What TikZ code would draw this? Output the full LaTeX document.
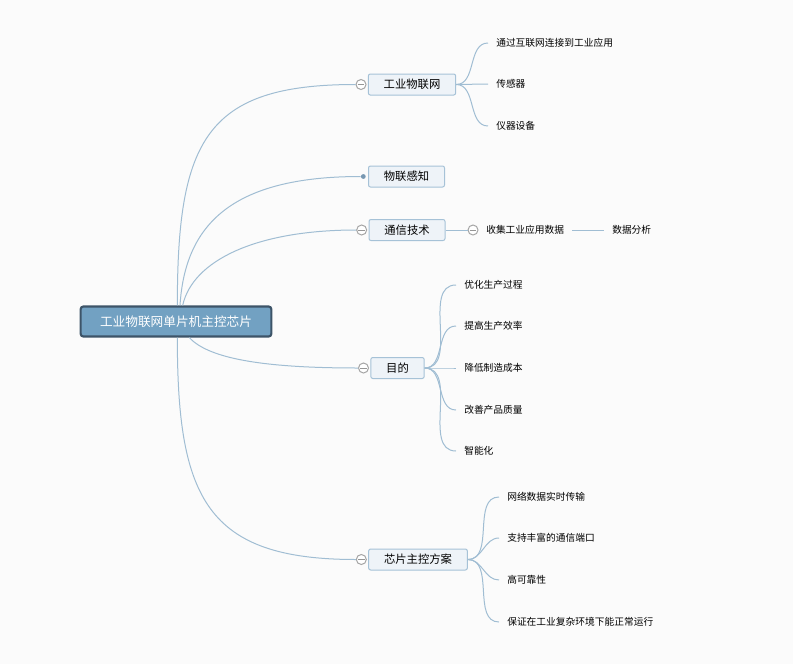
\documentclass[tikz,border=0pt]{standalone}
\usepackage{fontspec}
\newfontfamily\cjk{Noto Sans CJK SC}
\usetikzlibrary{positioning}

\begin{document}
\begin{tikzpicture}[x=0.75pt,y=0.75pt,yscale=-1,xscale=1,
  link/.style={draw={rgb, 255:red, 160; green, 189; blue, 211 }, line width=0.75pt},
  rootbox/.style={draw={rgb, 255:red, 61; green, 84; blue, 104 }, line width=1.6pt, fill={rgb, 255:red, 114; green, 161; blue, 194 }, rounded corners=2pt, text=white, font=\cjk\fontsize{9.5}{11}\selectfont, minimum width=143pt, minimum height=22.5pt, inner sep=0pt},
  topicbox/.style={draw={rgb, 255:red, 166; green, 194; blue, 215 }, line width=0.75pt, fill={rgb, 255:red, 238; green, 243; blue, 248 }, rounded corners=1.5pt, font=\cjk\fontsize{8.5}{10}\selectfont, minimum height=15.75pt, inner xsep=11.5pt, inner ysep=0pt},
  leaf/.style={anchor=west, font=\cjk\fontsize{7.3}{9}\selectfont, inner xsep=6pt, inner ysep=1pt},
  fold/.style={circle, draw={rgb, 255:red, 165; green, 165; blue, 165 }, line width=0.75pt, fill=white, minimum size=7.5pt, inner sep=0pt,
    path picture={\draw[draw={rgb, 255:red, 150; green, 150; blue, 150 }, line width=0.6pt] ([xshift=-2.6pt]path picture bounding box.center) -- ([xshift=2.6pt]path picture bounding box.center);}},
  dotmark/.style={circle, fill={rgb, 255:red, 120; green, 152; blue, 178 }, minimum size=3.6pt, inner sep=0pt}
]
%set diagram size
\path [fill={rgb, 255:red, 251; green, 251; blue, 251 }] (0,0) rectangle (793,664);

% Root
\node [rootbox] (root) at (176,321.5) {工业物联网单片机主控芯片};

% Main topics
\node [topicbox] (iot) at (412,84.5) {工业物联网};
\node [topicbox] (sense) at (406.5,176.5) {物联感知};
\node [topicbox] (comm) at (407,230) {通信技术};
\node [topicbox] (goal) at (397.5,368) {目的};
\node [topicbox] (chip) at (418,559.5) {芯片主控方案};

% Fold marks
\node [fold, left=1pt of iot] (iotfold) {};
\node [dotmark, left=1.5pt of sense] (sensedot) {};
\node [fold, left=1pt of comm] (commfold) {};
\node [fold, left=1pt of goal] (goalfold) {};
\node [fold, left=1pt of chip] (chipfold) {};

% Root links
\draw [link] ([xshift=1]root.north) .. controls +(0,-165) and +(-150,0) .. (iotfold.west);
\draw [link] ([xshift=3]root.north) .. controls +(5,-80) and +(-130,0) .. (sensedot.west);
\draw [link] ([xshift=5]root.north) .. controls +(10,-45) and +(-100,0) .. (commfold.west);
\draw [link] ([xshift=10]root.south) .. controls +(20,22) and +(-90,0) .. (goalfold.west);
\draw [link] ([xshift=1]root.south) .. controls +(0,160) and +(-150,0) .. (chipfold.west);

% Text Node
\node [leaf] (iot1) at (488,43) {通过互联网连接到工业应用};
\node [leaf] (iot2) at (488,84) {传感器};
\node [leaf] (iot3) at (488,126) {仪器设备};
\foreach \k in {iot1,iot2,iot3}
  \draw [link] (iot.east) to [out=0, in=180] (\k.west);

% Text Node
\node [fold] (collectfold) at (473,230) {};
\node [leaf] (collect) at (478,230) {收集工业应用数据};
\node [leaf] (analysis) at (604,230) {数据分析};
\draw [link] (comm.east) -- (collectfold.west);
\draw [link] (collect.east) -- (analysis.west);

% Text Node
\node [leaf] (goal1) at (456,285) {优化生产过程};
\node [leaf] (goal2) at (456,326) {提高生产效率};
\node [leaf] (goal3) at (456,368) {降低制造成本};
\node [leaf] (goal4) at (456,410) {改善产品质量};
\node [leaf] (goal5) at (456,451) {智能化};
\foreach \k in {goal1,goal2,goal3,goal4,goal5}
  \draw [link] (goal.east) to [out=0, in=180] (\k.west);

% Text Node
\node [leaf] (chip1) at (499,497) {网络数据实时传输};
\node [leaf] (chip2) at (499,538) {支持丰富的通信端口};
\node [leaf] (chip3) at (499,580) {高可靠性};
\node [leaf] (chip4) at (499,622) {保证在工业复杂环境下能正常运行};
\foreach \k in {chip1,chip2,chip3,chip4}
  \draw [link] (chip.east) to [out=0, in=180] (\k.west);

\end{tikzpicture}
\end{document}
